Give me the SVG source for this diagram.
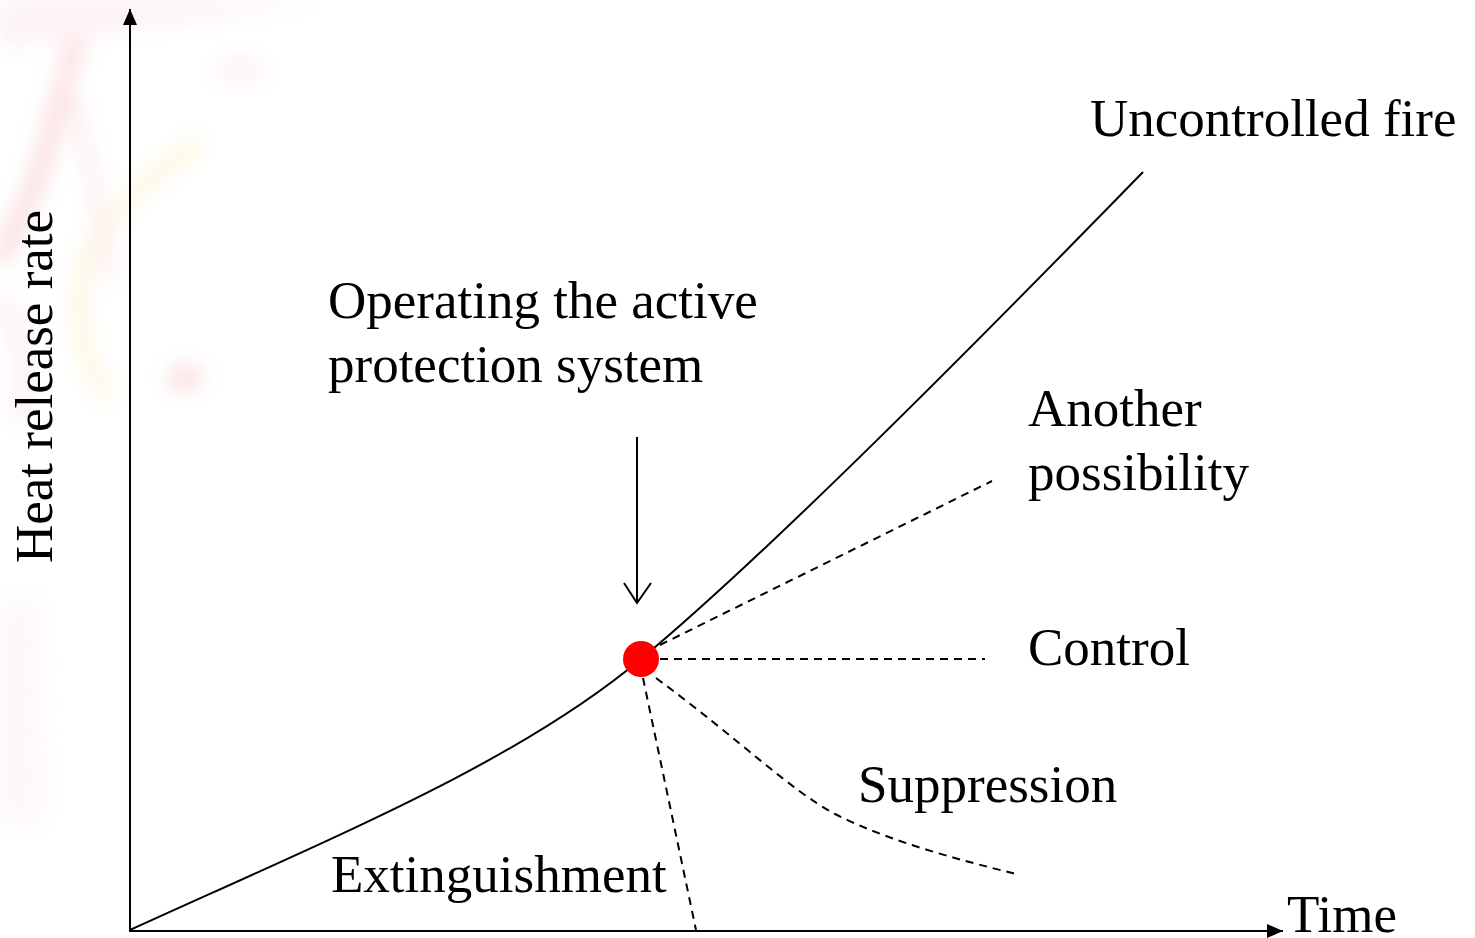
<svg xmlns="http://www.w3.org/2000/svg" width="1475" height="938" viewBox="0 0 1475 938">
<style>
  text { font-family: "Liberation Serif", "Tinos", "Times New Roman", "DejaVu Serif", serif; font-size: 53px; fill: #000; }
  .solid { fill: none; stroke: #000; stroke-width: 2; }
  .dash { fill: none; stroke: #000; stroke-width: 2; stroke-dasharray: 8 6; }
</style>
<defs>
  <filter id="blur" x="-50%" y="-50%" width="200%" height="200%"><feGaussianBlur stdDeviation="10"/></filter>
  <marker id="filled" markerWidth="16" markerHeight="14" refX="16" refY="7" orient="auto" markerUnits="userSpaceOnUse">
    <path d="M0,0 L16,7 L0,14 Z" fill="#000"/>
  </marker>
</defs>
<rect width="1475" height="938" fill="#fff"/>
<g id="background" filter="url(#blur)" opacity="0.35">
  <path d="M85,10 C70,60 55,120 40,170 C25,210 10,240 0,260" stroke="#f4a0a0" stroke-width="18" fill="none"/>
  <path d="M0,0 L320,0 C220,20 120,30 0,50 Z" fill="#fbdde6"/>
  <path d="M200,140 C160,170 120,200 90,250 C70,300 80,360 110,400" stroke="#f8e6a8" stroke-width="16" fill="none"/>
  <path d="M60,60 C80,120 100,200 110,280" stroke="#f6c0c0" stroke-width="10" fill="none"/>
  <ellipse cx="185" cy="378" rx="18" ry="12" fill="#f3a6a6"/>
  <ellipse cx="240" cy="70" rx="25" ry="12" fill="#fad6e0"/>
  <path d="M0,600 L40,600 L45,820 L0,830 Z" fill="#fbeaf2"/>
  <path d="M0,300 C20,320 30,360 20,420" stroke="#f8c8cc" stroke-width="14" fill="none"/>
</g>
<g id="connectors">
  <line id="y-axis" class="solid" x1="130" y1="931" x2="130" y2="9" marker-end="url(#filled)"/>
  <line id="x-axis" class="solid" x1="129" y1="931" x2="1283" y2="931" marker-end="url(#filled)"/>
  <path id="fire-curve" class="solid" d="M130,930 C350,830 520,760 641,659 C760,560 950,370 1143,172"/>
  <line id="another" class="dash" x1="660" y1="645" x2="992" y2="481"/>
  <line id="control" class="dash" x1="660" y1="659" x2="985" y2="659"/>
  <path id="suppression" class="dash" d="M656,678 C740,740 790,790 835,814 C890,842 960,860 1016,874"/>
  <line id="extinguishment" class="dash" x1="643" y1="678" x2="696" y2="930"/>
  <path id="activation-arrow" class="solid" d="M637,437 L637,603 M624,583 L637,603 L651,583"/>
</g>
<g id="activation-point"><circle cx="641" cy="659" r="18" fill="#ff0000"/></g>
<g id="labels">
  <text x="1090" y="136" font-family="Liberation Serif">Uncontrolled fire</text>
  <text x="328" y="318" font-family="Liberation Serif">Operating the active</text>
  <text x="328" y="382" font-family="Liberation Serif">protection system</text>
  <text x="1028" y="426" font-family="Liberation Serif">Another</text>
  <text x="1028" y="490" font-family="Liberation Serif">possibility</text>
  <text x="1028" y="665" font-family="Liberation Serif">Control</text>
  <text x="858" y="802" font-family="Liberation Serif">Suppression</text>
  <text x="331" y="892" font-family="Liberation Serif">Extinguishment</text>
  <text x="1287" y="932" font-family="Liberation Serif">Time</text>
  <text transform="translate(52,563) rotate(-90)" font-family="Liberation Serif">Heat release rate</text>
</g>
</svg>
